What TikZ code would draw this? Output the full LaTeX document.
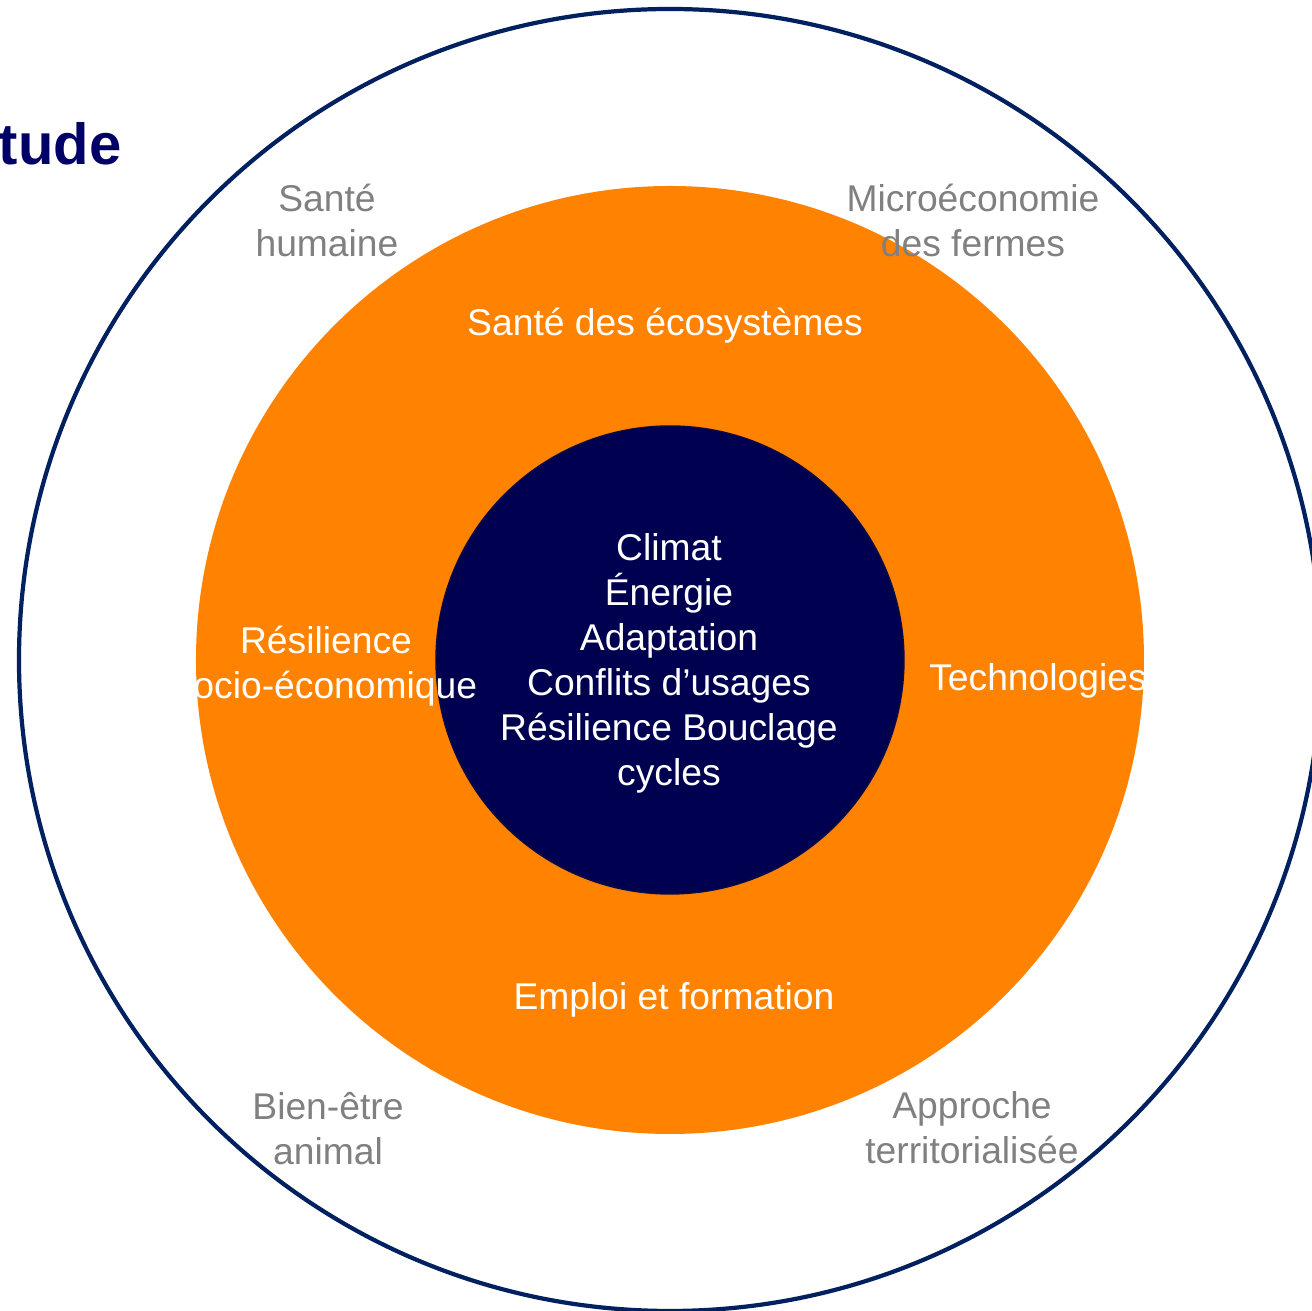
\documentclass[tikz,border=0pt]{standalone}
\usepackage{fontspec}
\setmainfont{Liberation Sans}
\usetikzlibrary{positioning}
\definecolor{navyfill}{RGB}{0,0,80}
\definecolor{navyline}{RGB}{0,32,96}
\definecolor{titlenavy}{RGB}{0,0,102}
\definecolor{ringorange}{RGB}{255,130,0}
\definecolor{outergray}{RGB}{128,128,128}
\tikzset{
	outer/.style={
		circle,
		draw=navyline,
		line width=1.2pt,
		minimum size=13.02cm,
		inner sep=0pt,
	},
	ring/.style={
		circle,
		fill=ringorange,
		minimum size=9.48cm,
		inner sep=0pt,
	},
	core/.style={
		circle,
		fill=navyfill,
		draw={rgb,255:red,10;green,10;blue,70},
		line width=0.4pt,
		minimum size=4.68cm,
		inner sep=0pt,
	},
	ringtext/.style={
		text=white,
		align=center,
		inner sep=0pt,
		font=\fontsize{10.6}{12.8}\selectfont,
	},
	graytext/.style={
		text=outergray,
		align=center,
		inner sep=0pt,
		font=\fontsize{10.6}{12.8}\selectfont,
	},
}

\begin{document}
\begin{tikzpicture}
		\useasboundingbox (-6.70,-6.51) rectangle (6.42,6.60);
		\node [outer] (cercle) at (0,0) {};
		\node [ring] (anneau) at (cercle.center) {};
		\node [core] (coeur) at (anneau.center) {};
		
		% textes du coeur et de l'anneau
		\node [ringtext] (enjeux) at (-0.01,-0.03) {Climat\\Énergie\\Adaptation\\Conflits d’usages\\Résilience Bouclage\\cycles};
		\node [ringtext] (ecosys) at (-0.05,3.34) {Santé des écosystèmes};
		\node [ringtext] (resil) at (-3.44,-0.06) {Résilience\\socio-économique};
		\node [ringtext] (techno) at (3.68,-0.21) {Technologies};
		\node [ringtext] (emploi) at (0.04,-3.40) {Emploi et formation};
		
		% textes du cercle externe
		\node [graytext] (sante) at (-3.43,4.40) {Santé\\humaine};
		\node [graytext] (micro) at (3.03,4.40) {Microéconomie\\des fermes};
		\node [graytext] (bienetre) at (-3.42,-4.685) {Bien-être\\animal};
		\node [graytext] (territ) at (3.02,-4.68) {Approche\\territorialisée};
		
		\node [anchor=base east, inner sep=0pt, text=titlenavy, font=\fontsize{16.5}{20}\selectfont\bfseries] (titre) at (-5.48,4.95) {tude};
	\end{tikzpicture}
\end{document}
